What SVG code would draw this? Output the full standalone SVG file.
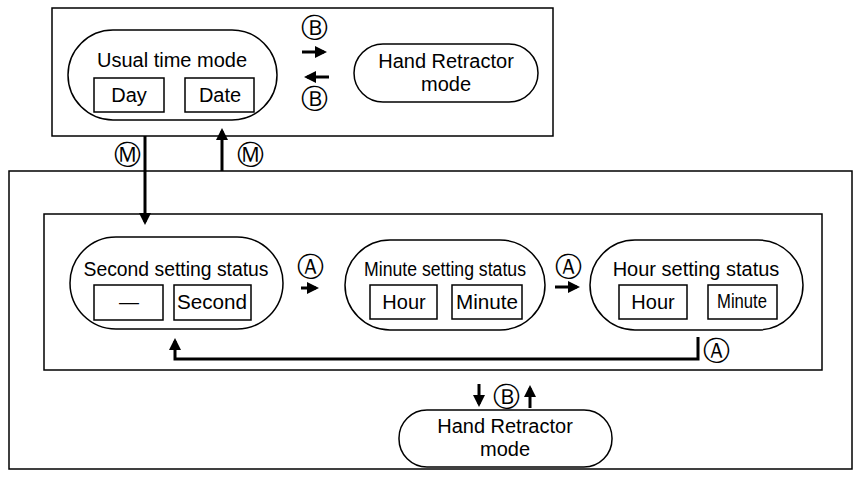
<svg xmlns="http://www.w3.org/2000/svg" width="862" height="478" viewBox="0 0 862 478">
<style>
.b{fill:#fff;stroke:#000;stroke-width:1.5}
.t{font-family:"Liberation Sans",Arial,sans-serif;font-size:20px;text-anchor:middle;fill:#000}
.c{font-family:"DejaVu Sans",sans-serif;font-size:27px;text-anchor:middle}
.l{stroke:#000;stroke-width:3;fill:none}
</style>
<defs><marker id="a" markerWidth="4" markerHeight="4" refX="3" refY="2" orient="auto" markerUnits="strokeWidth"><path d="M0,0L4,2L0,4z"/></marker></defs>
<rect class="b" x="9" y="171" width="843" height="298"/>
<rect class="b" x="44" y="214" width="778" height="156"/>
<rect class="b" x="52" y="8" width="501" height="128"/>
<g id="usual"><rect class="b" x="68" y="30" width="209" height="90" rx="45"/><text class="t" x="172" y="67">Usual time mode</text>
<rect class="b" x="94" y="78" width="70" height="34"/><text class="t" x="129" y="102">Day</text>
<rect class="b" x="185" y="78" width="69" height="34"/><text class="t" x="220" y="102">Date</text></g>
<g id="hr1"><rect class="b" x="354" y="44" width="184" height="58" rx="29"/><text class="t" x="446" y="68">Hand Retractor</text><text class="t" x="446" y="91">mode</text></g>
<g id="sec"><rect class="b" x="70" y="237" width="213" height="92" rx="46"/><text class="t" x="176" y="276" textLength="185" lengthAdjust="spacingAndGlyphs">Second setting status</text>
<rect class="b" x="94" y="285" width="69" height="35"/><text class="t" x="129" y="309">—</text>
<rect class="b" x="174" y="285" width="77" height="35"/><text class="t" x="212" y="309" textLength="70" lengthAdjust="spacingAndGlyphs">Second</text></g>
<g id="min"><rect class="b" x="345" y="240" width="200" height="90" rx="45"/><text class="t" x="445" y="276" textLength="162" lengthAdjust="spacingAndGlyphs">Minute setting status</text>
<rect class="b" x="370" y="285" width="67" height="34"/><text class="t" x="404" y="309">Hour</text>
<rect class="b" x="452" y="285" width="70" height="34"/><text class="t" x="487" y="309" textLength="62" lengthAdjust="spacingAndGlyphs">Minute</text></g>
<g id="hour"><rect class="b" x="590" y="240" width="213" height="90" rx="45"/><text class="t" x="696" y="276">Hour setting status</text>
<rect class="b" x="619" y="285" width="68" height="34"/><text class="t" x="653" y="309">Hour</text>
<rect class="b" x="708" y="285" width="69" height="34"/><text class="t" x="742" y="308" textLength="50" lengthAdjust="spacingAndGlyphs">Minute</text></g>
<g id="hr2"><rect class="b" x="399" y="410" width="213" height="57" rx="28"/><text class="t" x="505" y="433">Hand Retractor</text><text class="t" x="505" y="456">mode</text></g>
<g id="connectors">
<line class="l" x1="302" y1="52" x2="324" y2="52" marker-end="url(#a)"/>
<line class="l" x1="329" y1="77" x2="307" y2="77" marker-end="url(#a)"/>
<line class="l" x1="145" y1="136" x2="145" y2="222" marker-end="url(#a)"/>
<line class="l" x1="222" y1="171" x2="222" y2="131" marker-end="url(#a)"/>
<line class="l" x1="301" y1="288" x2="316" y2="288" marker-end="url(#a)"/>
<line class="l" x1="555" y1="287" x2="577" y2="287" marker-end="url(#a)"/>
<polyline class="l" points="698,337 698,359 175,359 175,341" marker-end="url(#a)"/>
<line class="l" x1="479" y1="384" x2="479" y2="404" marker-end="url(#a)"/>
<line class="l" x1="530" y1="408" x2="530" y2="388" marker-end="url(#a)"/>
</g>
<g id="labels">
<text class="c" x="314" y="37">Ⓑ</text><text class="c" x="314" y="108">Ⓑ</text>
<text class="c" x="127" y="164">Ⓜ</text><text class="c" x="250" y="164">Ⓜ</text>
<text class="c" x="310" y="276">Ⓐ</text><text class="c" x="568" y="276">Ⓐ</text>
<text class="c" x="716" y="360">Ⓐ</text><text class="c" x="506" y="406">Ⓑ</text>
</g>
</svg>
